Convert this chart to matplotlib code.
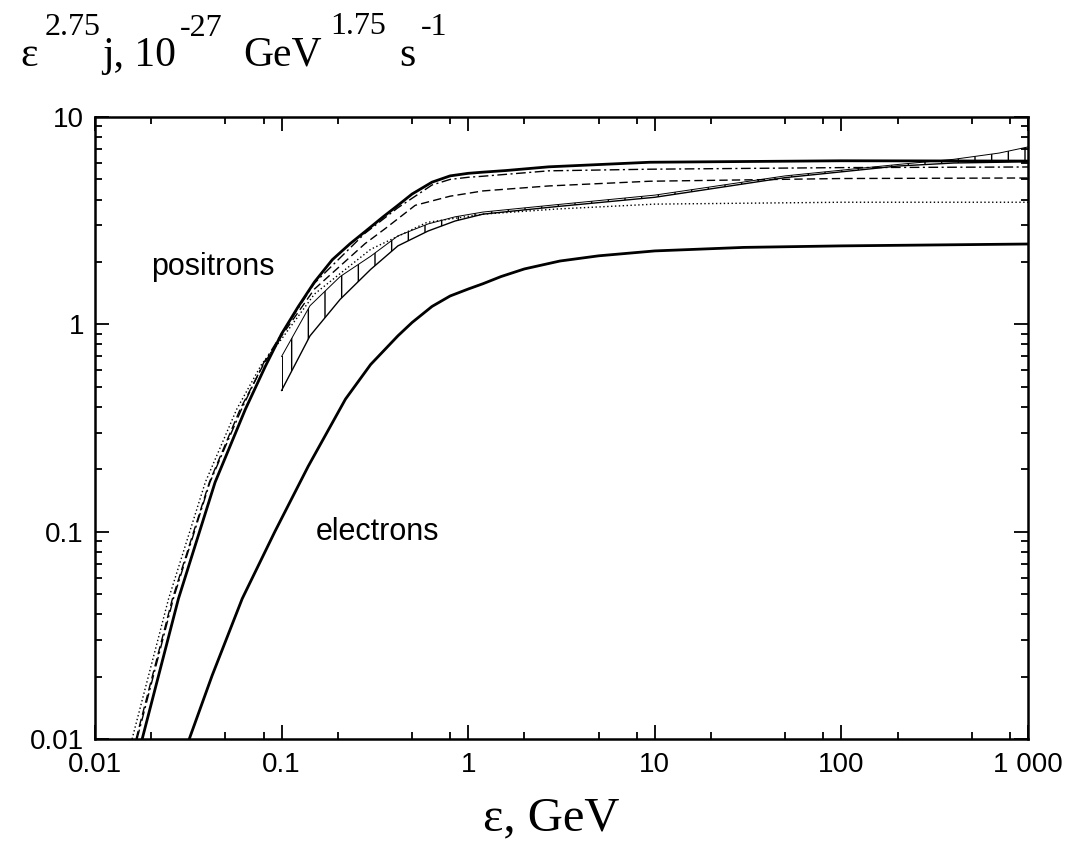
import numpy as np
import matplotlib.pyplot as plt

plt.rcParams['font.family'] = ['Liberation Sans', 'DejaVu Sans']

# electrons (solid, lower)
el_e = [0.032, 0.0424, 0.0615, 0.092, 0.139, 0.22, 0.3, 0.42, 0.5, 0.64, 0.8, 1.0, 1.2, 1.5, 2.0, 3.1, 5.0, 10, 30, 100, 1000]
el_j = [0.01, 0.0202, 0.0475, 0.1, 0.207, 0.436, 0.64, 0.88, 1.02, 1.22, 1.37, 1.48, 1.57, 1.7, 1.85, 2.02, 2.14, 2.26, 2.35, 2.39, 2.44]

# positrons, main solid curve
ps_e = [0.0179, 0.028, 0.044, 0.064, 0.082, 0.1, 0.123, 0.15, 0.187, 0.233, 0.28, 0.35, 0.42, 0.5, 0.64, 0.8, 1.0, 1.2, 1.6, 2.7, 9.4, 100, 1000]
ps_j = [0.01, 0.0475, 0.173, 0.39, 0.63, 0.9, 1.22, 1.6, 2.05, 2.45, 2.8, 3.3, 3.75, 4.25, 4.85, 5.2, 5.35, 5.42, 5.52, 5.75, 6.05, 6.15, 6.13]

# positrons, dash-dot
pdd_e = [0.0168, 0.0263, 0.0413, 0.061, 0.08, 0.1, 0.15, 0.28, 0.42, 0.64, 0.8, 1.0, 1.2, 2.7, 9.4, 100, 1000]
pdd_j = [0.01, 0.0475, 0.173, 0.39, 0.65, 0.9, 1.58, 2.75, 3.65, 4.7, 5.0, 5.12, 5.18, 5.5, 5.6, 5.7, 5.74]

# positrons, dashed
pd_e = [0.0166, 0.026, 0.041, 0.06, 0.08, 0.1, 0.15, 0.28, 0.36, 0.52, 0.8, 1.2, 2.7, 9.4, 100, 1000]
pd_j = [0.01, 0.0475, 0.173, 0.39, 0.64, 0.88, 1.48, 2.45, 2.9, 3.75, 4.15, 4.4, 4.65, 4.9, 5.05, 5.08]

# positrons, dotted
pdot_e = [0.0158, 0.0248, 0.039, 0.0575, 0.078, 0.1, 0.15, 0.3, 0.6, 1.2, 3.0, 10, 100, 1000]
pdot_j = [0.01, 0.0475, 0.173, 0.39, 0.64, 0.85, 1.4, 2.3, 3.1, 3.4, 3.6, 3.8, 3.88, 3.88]

# hatched band
band_e = [0.1, 0.142, 0.206, 0.3, 0.42, 0.61, 0.85, 1.2, 3.0, 10, 50, 200, 400, 700, 1000]
band_lo = [0.48, 0.88, 1.32, 1.84, 2.39, 2.82, 3.15, 3.4, 3.7, 4.1, 5.1, 5.8, 6.0, 6.05, 6.1]
band_hi = [0.70, 1.23, 1.70, 2.13, 2.67, 3.05, 3.3, 3.48, 3.78, 4.2, 5.2, 5.9, 6.25, 6.7, 7.17]

xticks = [0.01, 0.1, 1, 10, 100, 1000]
xtick_labels = ['0.01', '0.1', '1', '10', '100', '1 000']
yticks = [0.01, 0.1, 1, 10]
ytick_labels = ['0.01', '0.1', '1', '10']

# y-axis title, drawn piece by piece: (text, x px, baseline px, size)
ytitle = [('ε', 20, 66, 30), ('2.75', 45, 35, 23), ('j, 10', 102, 66, 30),
          ('-27', 180, 36, 23), ('GeV', 243, 66, 30), ('1.75', 330, 34, 23),
          ('s', 399, 66, 30), ('-1', 421, 35, 23)]

W, H = 1072, 843
fig = plt.figure(figsize=(W / 100, H / 100), dpi=100)
ax = fig.add_axes([95 / W, 1 - 739 / H, 933 / W, 622 / H])

ax.fill_between(band_e, band_lo, band_hi, facecolor='none', edgecolor='black',
                hatch='|', linewidth=0)
ax.plot(band_e, band_lo, color='black', lw=1.0)
ax.plot(band_e, band_hi, color='black', lw=0.7)
ax.plot([band_e[0], band_e[0]], [band_lo[0], band_hi[0]], color='black', lw=0.7)
ax.plot([band_e[-1], band_e[-1]], [band_lo[-1], band_hi[-1]], color='black', lw=0.7)

ax.plot(pdot_e, pdot_j, color='black', lw=1.0, linestyle=(0, (1, 1.8)))
ax.plot(pd_e, pd_j, color='black', lw=1.0, linestyle=(0, (6, 3)))
ax.plot(pdd_e, pdd_j, color='black', lw=1.0, linestyle=(0, (7, 2.5, 1.5, 2.5)))
ax.plot(ps_e, ps_j, color='black', lw=2.0)
ax.plot(el_e, el_j, color='black', lw=2.0)

ax.set_xscale('log')
ax.set_yscale('log')
ax.set_xlim(0.01, 1000)
ax.set_ylim(0.01, 10)

ax.set_xticks(xticks)
ax.set_xticklabels(xtick_labels)
ax.set_yticks(yticks)
ax.set_yticklabels(ytick_labels)
xminor = [m * d for d in [0.01, 0.1, 1, 10, 100] for m in (2, 5, 8)]
yminor = [m * d for d in [0.01, 0.1, 1] for m in range(2, 10)]
ax.set_xticks(xminor, minor=True)
ax.set_yticks(yminor, minor=True)
ax.tick_params(which='both', direction='in', top=True, right=True, width=1.3, labelsize=20)
ax.tick_params(which='major', length=10)
ax.tick_params(which='minor', length=5)
ax.tick_params(axis='x', which='major', pad=9)
ax.tick_params(axis='y', which='major', pad=8)
for s in ax.spines.values():
    s.set_linewidth(1.8)

ax.text(0.043, 1.89, 'positrons', fontsize=22, ha='center', va='center')
ax.text(0.325, 0.1, 'electrons', fontsize=22, ha='center', va='center')

for txt, px, py, size in ytitle:
    fig.text(px / W, 1 - py / H, txt, fontsize=size, family='Liberation Serif',
             ha='left', va='baseline')
fig.text(551 / W, 1 - 830 / H, 'ε, GeV', fontsize=35, family='Liberation Serif',
         ha='center', va='baseline')

fig.savefig('out.png', dpi=100)
